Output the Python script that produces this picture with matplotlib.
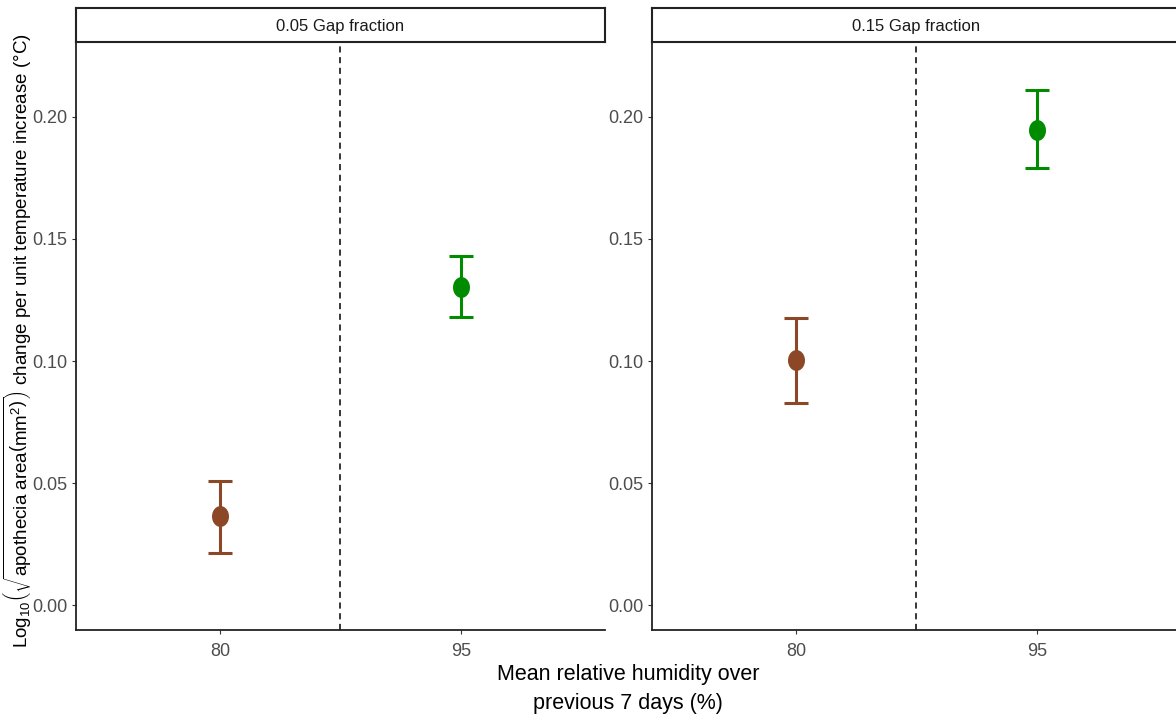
import numpy as np
import matplotlib
matplotlib.use("Agg")
import matplotlib.pyplot as plt
from matplotlib.path import Path
from matplotlib.patches import Rectangle

plt.rcParams['font.family'] = ['Liberation Sans', 'DejaVu Sans']
plt.rcParams['mathtext.fontset'] = 'custom'
plt.rcParams['mathtext.rm'] = 'Liberation Sans'
plt.rcParams['mathtext.it'] = 'Liberation Sans'

# Data
humidity = ["80", "95"]
panels = ["0.05 Gap fraction", "0.15 Gap fraction"]
estimate = [[0.0365, 0.1305], [0.1004, 0.1947]]
lower = [[0.0213, 0.1180], [0.0828, 0.1790]]
upper = [[0.0508, 0.1430], [0.1178, 0.2110]]
colors = ["#8B4726", "#008B00"]
yticks = [0.00, 0.05, 0.10, 0.15, 0.20]

W, H = 1176, 722
fig = plt.figure(figsize=(W / 100, H / 100), dpi=100)

# slightly tall elliptical point marker
t = np.linspace(0, 2 * np.pi, 60)
ell = Path(np.column_stack([0.8 * np.cos(t), np.sin(t)]), closed=True)

panel_x = [76, 652]
panel_w = 529
ax_top, ax_bot = 42, 630
strip_top = 8

for i, (px, name) in enumerate(zip(panel_x, panels)):
    ax = fig.add_axes([px / W, 1 - ax_bot / H, panel_w / W, (ax_bot - ax_top) / H])
    xpos = np.arange(1, len(humidity) + 1)
    for j in range(len(humidity)):
        e = estimate[i][j]
        ax.errorbar(xpos[j], e,
                    yerr=[[e - lower[i][j]], [upper[i][j] - e]],
                    fmt='none', ecolor=colors[j], elinewidth=2.2,
                    capsize=8.5, capthick=2.2, zorder=2)
        ax.plot(xpos[j], e, marker=ell, ms=14, color=colors[j],
                linestyle='none', zorder=3)
    ax.axvline(1.5, color='black', linestyle=(0, (4, 3)), linewidth=1.1)
    ax.set_xlim(0.4, 2.6)
    ax.set_ylim(-0.0102, 0.2307)
    ax.set_xticks(xpos)
    ax.set_xticklabels(humidity)
    ax.set_yticks(yticks)
    ax.set_yticklabels([f"{v:.2f}" for v in yticks])
    ax.tick_params(axis='both', labelsize=13, colors='#333333',
                   labelcolor='#4d4d4d', length=3, width=0.8, pad=3)
    ax.tick_params(axis='x', pad=6)
    for s in ['top', 'right']:
        ax.spines[s].set_visible(False)
    for s in ['left', 'bottom']:
        ax.spines[s].set_linewidth(1.3)
        ax.spines[s].set_color('#222222')
    # facet strip
    strip = fig.add_axes([px / W, 1 - ax_top / H, panel_w / W, (ax_top - strip_top) / H])
    strip.set_xticks([])
    strip.set_yticks([])
    strip.add_patch(Rectangle((0, 0), 1, 1, transform=strip.transAxes,
                              facecolor='white', edgecolor='none'))
    for s in strip.spines.values():
        s.set_linewidth(1.5)
        s.set_color('#222222')
    strip.text(0.5, 0.47, name, ha='center', va='center', fontsize=12,
               color='#1a1a1a', transform=strip.transAxes)

fig.text(628 / W, 1 - 689 / H, "Mean relative humidity over\nprevious 7 days (%)",
         ha='center', va='center', fontsize=15.5, linespacing=1.45)
fig.text(18 / W, 1 - 341 / H,
         r"Log$_{10}$$\left(\sqrt{\mathrm{apothecia\ area}\left(\mathrm{mm^2}\right)}\right)$ change per unit temperature increase (°C)",
         rotation=90, ha='center', va='center', fontsize=13.5)

fig.savefig("out.png", dpi=100)
